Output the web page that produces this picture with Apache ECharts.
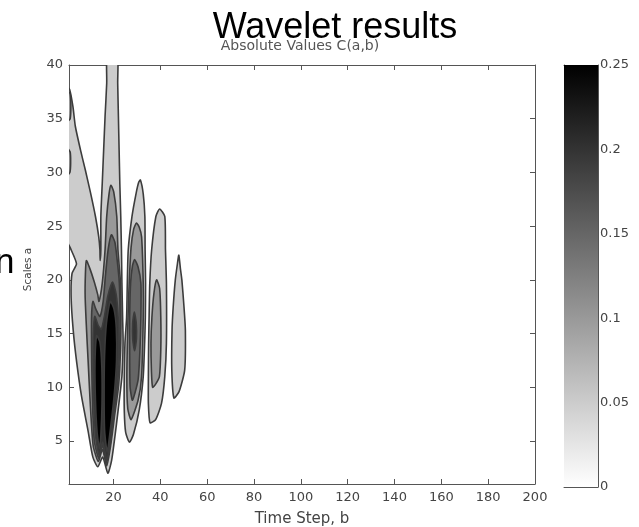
<!DOCTYPE html>
<html>
<head>
<meta charset="utf-8">
<script src="https://cdn.jsdelivr.net/npm/echarts@6/dist/echarts.min.js"></script>
<style>
  html, body { margin: 0; padding: 0; background: #ffffff; }
  #chart { width: 639px; height: 527px; }
</style>
</head>
<body>
<div id="chart"></div>
<script>
// Axis ranges and tick labels
const timeRange = [1, 200];
const scaleRange = [1, 40];
const timeTicks = [20, 40, 60, 80, 100, 120, 140, 160, 180, 200];
const scaleTicks = [5, 10, 15, 20, 25, 30, 35, 40];
const colorRange = [0, 0.25];
const colorTicks = [0, 0.05, 0.1, 0.15, 0.2, 0.25];

// Filled contour regions of |C(a,b)|, as [time step b, scale a] outlines
const leftCore05 = [
  [0.5, 37.9], [1.3, 37.7], [2.7, 36.1], [3.7, 34.3], [5.9, 32.1], [8.0, 30.2], [10.2, 28.1],
  [12.3, 25.9], [13.7, 24.0], [14.2, 22.8], [14.3, 21.8], [14.6, 22.8], [14.6, 25.9], [15.2, 29.0],
  [15.8, 32.1], [16.4, 35.2], [17.1, 38.3], [17.4, 41.5], [21.6, 41.5], [21.8, 38.3], [22.1, 35.2],
  [22.4, 32.1], [22.7, 29.0], [23.1, 25.9], [23.4, 22.8], [23.6, 19.7], [23.9, 16.5], [24.1, 14.1],
  [23.6, 11.0], [22.0, 7.9], [20.6, 5.4], [19.2, 3.2], [17.6, 2.0], [15.4, 3.5], [13.3, 2.6],
  [11.2, 3.5], [9.1, 6.0], [6.4, 9.1], [4.3, 12.3], [2.8, 15.3], [1.9, 18.4], [2.3, 20.6],
  [4.2, 21.5], [1.5, 23.0], [0.5, 23.5]
];
const leftCore10 = [
  [8.4, 21.8], [10.0, 21.0], [11.8, 19.8], [13.3, 18.6], [13.8, 18.0], [15.2, 19.7], [16.4, 22.8],
  [17.1, 25.9], [18.1, 28.0], [18.9, 28.8], [20.1, 28.2], [21.4, 25.9], [21.9, 22.8], [23.0, 19.7],
  [23.2, 16.5], [23.0, 13.5], [22.2, 10.2], [20.5, 7.4], [18.8, 4.6], [17.1, 2.7], [15.3, 4.2],
  [13.5, 3.1], [11.3, 4.6], [10.0, 8.8], [9.2, 12.3], [8.5, 15.3], [7.9, 18.4], [8.0, 20.5]
];
const leftCore15 = [
  [11.2, 18.0], [12.6, 17.2], [14.2, 16.6], [15.6, 18.0], [16.6, 20.5], [17.7, 22.8], [19.1, 24.2],
  [20.6, 23.5], [21.5, 22.0], [22.5, 19.7], [22.8, 16.5], [22.6, 13.5], [21.7, 10.2], [20.1, 7.4],
  [18.6, 4.7], [17.0, 3.0], [15.3, 4.6], [13.7, 3.4], [11.8, 5.0], [11.0, 8.8], [10.7, 12.3],
  [10.6, 15.3], [10.7, 17.0]
];
const leftCore20 = [
  [12.0, 16.6], [13.4, 15.8], [14.8, 15.4], [16.2, 16.7], [17.6, 18.5], [19.6, 19.8], [21.1, 18.7],
  [22.0, 16.5], [22.1, 13.5], [21.3, 10.2], [19.8, 7.4], [18.5, 5.0], [17.2, 3.2], [15.4, 4.9],
  [13.9, 3.7], [12.4, 5.4], [11.6, 8.8], [11.3, 12.3], [11.4, 15.0]
];
const leftCore25a = [
  [12.8, 14.8], [14.2, 14.2], [15.0, 12.0], [15.1, 8.5], [14.6, 5.5], [14.0, 4.3], [13.0, 5.8],
  [12.3, 8.8], [12.1, 12.3]
];
const leftCore25b = [
  [18.6, 18.0], [20.2, 17.3], [21.2, 15.5], [21.3, 12.5], [20.4, 9.5], [18.9, 6.5], [17.3, 4.0],
  [16.2, 6.0], [16.0, 9.5], [16.2, 13.0], [17.0, 16.0]
];
const edgeSliverA10 = [[0.5, 37.6], [1.5, 37.3], [1.8, 36.2], [1.5, 35.0], [0.5, 34.8]];
const edgeSliverB10 = [[0.5, 32.2], [1.5, 31.9], [1.7, 30.9], [1.4, 30.0], [0.5, 29.8]];

const ridgeC05 = [
  [31.5, 29.3], [32.7, 28.0], [33.4, 25.9], [33.5, 22.8], [33.7, 19.7], [33.6, 16.5], [33.3, 14.1],
  [32.7, 11.0], [31.0, 7.9], [28.5, 5.6], [26.8, 4.9], [25.2, 5.8], [24.6, 7.9], [24.6, 11.0],
  [24.9, 14.1], [25.6, 16.5], [25.9, 19.7], [26.3, 22.8], [27.9, 25.9], [29.7, 28.1], [30.8, 29.1]
];
const ridgeC10 = [
  [29.8, 25.3], [31.0, 24.9], [32.0, 24.0], [32.7, 19.7], [32.7, 16.5], [32.0, 11.0], [30.5, 8.8],
  [27.5, 7.0], [26.1, 8.0], [25.7, 11.0], [26.2, 16.5], [26.7, 19.7], [27.5, 23.0], [28.6, 24.7]
];
const ridgeC15 = [
  [29.0, 21.9], [30.5, 21.2], [31.7, 19.7], [31.7, 16.5], [31.3, 13.5], [30.5, 10.7], [28.1, 8.8],
  [27.1, 10.0], [26.9, 13.5], [26.9, 16.5], [27.3, 19.7], [28.1, 21.3]
];
const ridgeC20 = [[28.9, 17.0], [29.7, 16.0], [29.8, 14.5], [29.0, 13.4], [28.2, 14.5], [28.2, 16.0]];

const ridgeD05 = [
  [39.7, 26.6], [41.9, 25.9], [42.2, 22.8], [42.6, 19.7], [42.6, 14.1], [41.9, 11.0], [40.5, 8.5],
  [38.0, 7.0], [35.6, 6.7], [34.9, 8.5], [34.9, 11.0], [35.0, 14.1], [35.2, 16.5], [35.5, 19.7],
  [36.3, 22.8], [38.1, 25.9]
];
const ridgeD10 = [
  [38.4, 20.0], [39.7, 19.2], [40.2, 16.5], [40.2, 13.5], [39.6, 11.0], [38.0, 10.3], [36.7, 10.0],
  [36.2, 11.5], [36.0, 14.1], [36.4, 16.5], [37.3, 18.8]
];

const ridgeE05 = [
  [47.9, 22.3], [48.6, 21.0], [49.2, 20.0], [50.1, 17.5], [50.7, 15.3], [50.4, 11.6], [48.0, 9.6],
  [45.8, 9.0], [44.9, 11.6], [45.0, 15.3], [45.5, 17.5], [46.4, 20.0], [47.3, 21.5]
];

// Drawn bottom level first so the higher levels sit on top
const contourRegions = [
  { level: 0.05, ring: leftCore05 },
  { level: 0.05, ring: ridgeC05 },
  { level: 0.05, ring: ridgeD05 },
  { level: 0.05, ring: ridgeE05 },
  { level: 0.10, ring: leftCore10 },
  { level: 0.10, ring: edgeSliverA10 },
  { level: 0.10, ring: edgeSliverB10 },
  { level: 0.10, ring: ridgeC10 },
  { level: 0.10, ring: ridgeD10 },
  { level: 0.15, ring: leftCore15 },
  { level: 0.15, ring: ridgeC15 },
  { level: 0.20, ring: leftCore20 },
  { level: 0.20, ring: ridgeC20 },
  { level: 0.25, ring: leftCore25a },
  { level: 0.25, ring: leftCore25b }
];

// Linear gray colormap: 0 -> white, 0.25 -> black
function levelGray(v) {
  const t = Math.max(0, Math.min(1, (v - colorRange[0]) / (colorRange[1] - colorRange[0])));
  const g = Math.round(255 * (1 - t));
  return 'rgb(' + g + ',' + g + ',' + g + ')';
}

const axisColor = '#555555';
const labelStyle = { color: '#444444', fontSize: 13, fontFamily: 'DejaVu Sans' };

function boxAxis(extra) {
  return Object.assign({
    type: 'value',
    axisLine: { show: true, onZero: false, lineStyle: { color: axisColor, width: 1 } },
    axisTick: { show: false },
    axisLabel: { show: false },
    splitLine: { show: false }
  }, extra);
}

const chart = echarts.init(document.getElementById('chart'), null, { renderer: 'canvas' });

chart.setOption({
  backgroundColor: '#ffffff',
  animation: false,
  grid: [
    { left: 69, top: 65, width: 466, height: 419, containLabel: false, outerBoundsMode: 'none' },
    { left: 564, top: 65, width: 34, height: 422, containLabel: false, outerBoundsMode: 'none' }
  ],
  xAxis: [
    boxAxis({
      gridIndex: 0, min: timeRange[0], max: timeRange[1], position: 'bottom',
      axisTick: { show: true, inside: true, length: 5, customValues: timeTicks, lineStyle: { color: axisColor } },
      axisLabel: Object.assign({ show: true, margin: 7, customValues: timeTicks }, labelStyle),
      name: 'Time Step, b', nameLocation: 'middle', nameGap: 28,
      nameTextStyle: { color: '#444444', fontSize: 15, fontFamily: 'DejaVu Sans' }
    }),
    boxAxis({
      gridIndex: 0, min: timeRange[0], max: timeRange[1], position: 'top',
      axisTick: { show: true, inside: true, length: 5, customValues: timeTicks, lineStyle: { color: axisColor } }
    }),
    boxAxis({ gridIndex: 1, min: 0, max: 1, position: 'bottom' }),
    boxAxis({ gridIndex: 1, min: 0, max: 1, position: 'top' })
  ],
  yAxis: [
    boxAxis({
      gridIndex: 0, min: scaleRange[0], max: scaleRange[1], position: 'left',
      axisTick: { show: true, inside: true, length: 5, customValues: scaleTicks, lineStyle: { color: axisColor } },
      axisLabel: Object.assign({ show: true, margin: 6, customValues: scaleTicks }, labelStyle),
      name: 'Scales a', nameLocation: 'middle', nameGap: 35,
      nameTextStyle: { color: '#444444', fontSize: 10.5, fontFamily: 'DejaVu Sans', padding: [0, 0, 0, 10] }
    }),
    boxAxis({
      gridIndex: 0, min: scaleRange[0], max: scaleRange[1], position: 'right',
      axisTick: { show: true, inside: true, length: 5, customValues: scaleTicks, lineStyle: { color: axisColor } }
    }),
    boxAxis({
      gridIndex: 1, min: colorRange[0], max: colorRange[1], position: 'right',
      axisTick: { show: true, inside: true, length: 4, customValues: colorTicks, lineStyle: { color: axisColor } },
      axisLabel: Object.assign({ show: true, margin: 2, customValues: colorTicks }, labelStyle)
    }),
    boxAxis({
      gridIndex: 1, min: colorRange[0], max: colorRange[1], position: 'left',
      axisTick: { show: true, inside: true, length: 4, customValues: colorTicks, lineStyle: { color: axisColor } }
    })
  ],
  graphic: [
    {
      type: 'text', x: 335, y: 28, silent: true,
      style: {
        text: 'Wavelet results', fill: '#000000', align: 'center', verticalAlign: 'middle',
        font: '36px "Liberation Sans", Arial, sans-serif'
      }
    },
    {
      type: 'text', x: 300, y: 46, silent: true,
      style: {
        text: 'Absolute Values C(a,b)', fill: '#555555', align: 'center', verticalAlign: 'middle',
        font: '14px "DejaVu Sans", sans-serif'
      }
    },
    {
      type: 'text', x: -5, y: 263, silent: true,
      style: {
        text: 'n', fill: '#000000', align: 'left', verticalAlign: 'middle',
        font: '35px "Liberation Sans", Arial, sans-serif'
      }
    }
  ],
  series: [
    {
      type: 'custom',
      name: 'Absolute Values C(a,b)',
      xAxisIndex: 0, yAxisIndex: 0,
      clip: true, silent: true,
      encode: { x: 0, y: 1 },
      data: contourRegions.map(function (r) { return [r.ring[0][0], r.ring[0][1], r.level]; }),
      renderItem: function (params, api) {
        const region = contourRegions[params.dataIndex];
        return {
          type: 'polygon',
          shape: { points: region.ring.map(function (p) { return api.coord(p); }), smooth: 0.2 },
          style: { fill: levelGray(region.level), stroke: '#3c3c3c', lineWidth: 1.6 }
        };
      }
    },
    {
      type: 'custom',
      name: 'colorbar',
      xAxisIndex: 2, yAxisIndex: 2,
      silent: true,
      encode: { x: 0, y: 1 },
      data: [[0, colorRange[1]]],
      renderItem: function (params, api) {
        const topLeft = api.coord([0, colorRange[1]]);
        const bottomRight = api.coord([1, colorRange[0]]);
        return {
          type: 'rect',
          shape: { x: topLeft[0], y: topLeft[1], width: bottomRight[0] - topLeft[0], height: bottomRight[1] - topLeft[1] },
          style: {
            fill: new echarts.graphic.LinearGradient(0, 0, 0, 1, [
              { offset: 0, color: levelGray(colorRange[1]) },
              { offset: 1, color: levelGray(colorRange[0]) }
            ])
          }
        };
      }
    }
  ]
});
</script>
</body>
</html>
